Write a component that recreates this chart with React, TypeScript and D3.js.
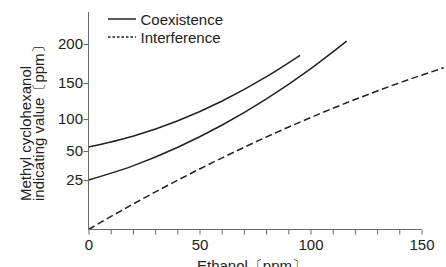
import { useEffect, useRef } from "react";
import * as d3 from "d3";

// curves (ethanol ppm -> indicating value ppm)
const ethanolHigh = [0, 20, 40, 60, 80, 95.3];
const coexistenceHigh = [56.2, 73.1, 96.9, 124.7, 157.8, 185.5];

const ethanolLow = [0, 20, 40, 60, 80, 100, 116.3];
const coexistenceLow = [25, 37.2, 55.4, 90.2, 127.7, 168.2, 203.7];

const ethanolInterf = [0, 20, 40, 60, 80, 100, 120, 140, 160];
const interference = [0, 12.8, 24.8, 43.9, 71.7, 101.9, 127, 150.1, 169.5];

// axes
const yTicks = [25, 50, 100, 150, 200];
const yBreaks = [0, 25, 50, 100, 150, 200, 240]; // the y axis is not evenly spaced
const xTicks = [0, 10, 20, 30, 40, 50, 60, 70, 80, 90, 100, 110, 120, 130, 140, 150];
const xLabels = [0, 50, 100, 150];

const legendItems = ["Coexistence", "Interference"];

export default function App() {
  const ref = useRef<SVGSVGElement>(null);

  useEffect(() => {
    const width = 446;
    const height = 267;
    const font = "'Liberation Sans', Arial, Helvetica, sans-serif";
    const ink = "#222";
    const axisGrey = "#6a6a6a";

    const x = d3.scaleLinear().domain([0, 150]).range([88.5, 421.5]);
    const y = d3.scaleLinear()
      .domain(yBreaks)
      .range([229.5, 180, 151, 119, 83, 44, 12]);

    const svg = d3.select(ref.current)
      .attr("width", width)
      .attr("height", height)
      .attr("viewBox", `0 0 ${width} ${height}`)
      .style("font-family", font);

    svg.selectAll("*").remove();

    // --- curves ---
    const line = d3.line<[number, number]>()
      .x(d => x(d[0]))
      .y(d => y(d[1]))
      .curve(d3.curveMonotoneX);

    const series = [
      { xs: ethanolHigh, ys: coexistenceHigh, dash: null },
      { xs: ethanolLow, ys: coexistenceLow, dash: null },
      { xs: ethanolInterf, ys: interference, dash: "7,3.5" },
    ];

    svg.append("g")
      .selectAll("path")
      .data(series)
      .join("path")
        .attr("d", s => line(s.xs.map((v, i) => [v, s.ys[i]] as [number, number])))
        .attr("fill", "none")
        .attr("stroke", ink)
        .attr("stroke-width", 1.5)
        .attr("stroke-dasharray", s => s.dash);

    // --- x axis ---
    svg.append("g")
      .attr("transform", `translate(0,${y(0)})`)
      .call(d3.axisBottom(x)
        .tickValues(xTicks)
        .tickSize(5)
        .tickPadding(5.3)
        .tickFormat(d => (xLabels.includes(+d) ? String(d) : "")))
      .call(g => g.select(".domain")
        .attr("d", `M${x(0)},0H${x(150)}`)
        .attr("stroke", axisGrey))
      .call(g => g.selectAll(".tick line").attr("stroke", axisGrey))
      .call(g => g.selectAll(".tick text")
        .attr("fill", ink)
        .attr("font-size", 15)
        .attr("font-family", font));

    // --- y axis ---
    svg.append("g")
      .attr("transform", `translate(${x(0)},0)`)
      .call(d3.axisLeft(y)
        .tickValues(yTicks)
        .tickSize(5)
        .tickPadding(0.5))
      .call(g => g.select(".domain")
        .attr("d", `M0,${y(240)}V${y(0)}`)
        .attr("stroke", axisGrey))
      .call(g => g.selectAll(".tick line").attr("stroke", axisGrey))
      .call(g => g.selectAll(".tick text")
        .attr("fill", ink)
        .attr("font-size", 15)
        .attr("font-family", font));

    // --- axis titles ---
    const yTitle = ["Methyl cyclohexanol", "indicating value〔ppm〕"];
    svg.append("g")
      .selectAll("text")
      .data(yTitle)
      .join("text")
        .attr("transform", (d, i) => `translate(${31 + i * 13},201) rotate(-90)`)
        .attr("fill", ink)
        .attr("font-size", 15)
        .text(d => d);

    // the title sits partly below the frame, as in the figure
    svg.append("text")
      .attr("x", 252)
      .attr("y", 271)
      .attr("text-anchor", "middle")
      .attr("fill", ink)
      .attr("font-size", 15)
      .text("Ethanol〔ppm〕");

    // --- legend ---
    const legend = svg.append("g");
    legendItems.forEach((label, i) => {
      const cy = 19 + i * 18;
      legend.append("line")
        .attr("x1", 108).attr("x2", 136)
        .attr("y1", cy).attr("y2", cy)
        .attr("stroke", ink)
        .attr("stroke-width", i === 0 ? 1.5 : 1.3)
        .attr("stroke-dasharray", i === 0 ? null : "2.5,2");
      legend.append("text")
        .attr("x", 140.5)
        .attr("y", cy + 6)
        .attr("fill", ink)
        .attr("font-size", 15)
        .text(label);
    });
  }, []);

  return (
    <div style={{ position: "absolute", left: 0, top: 0 }}>
      <svg ref={ref}></svg>
    </div>
  );
}
